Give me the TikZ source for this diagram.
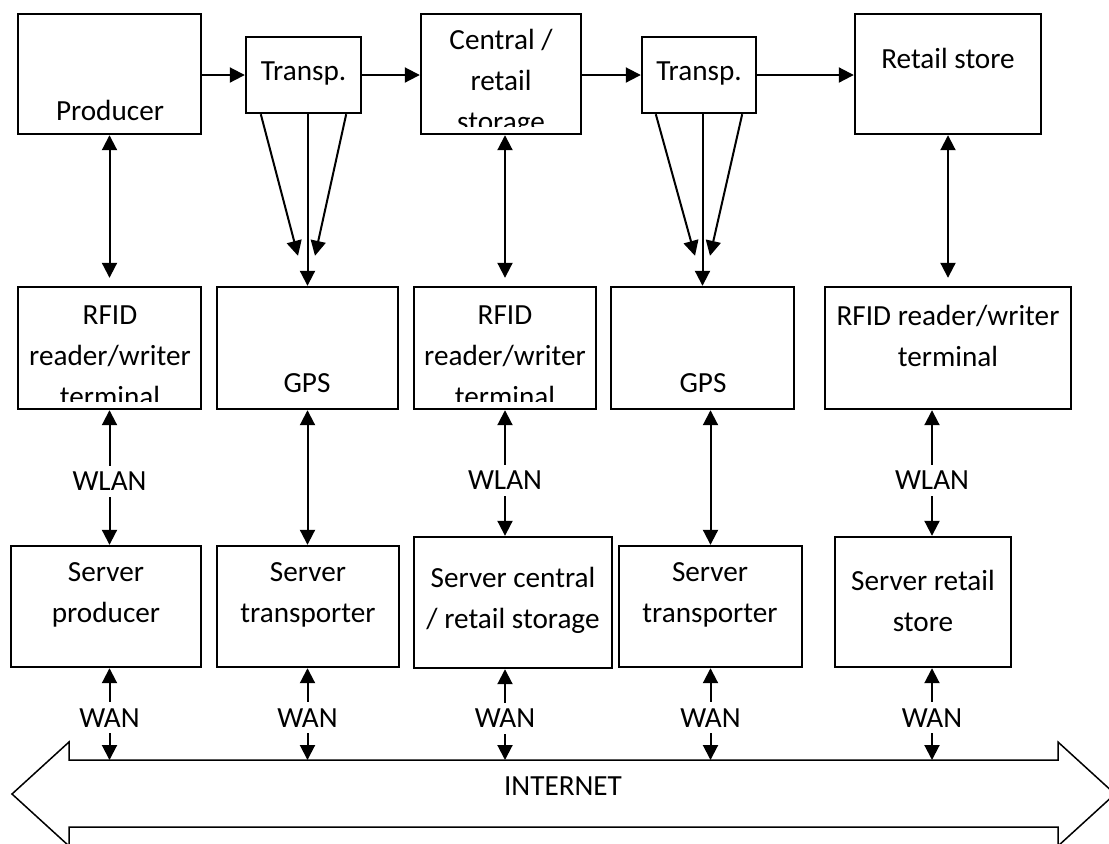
\documentclass[tikz,border=0pt]{standalone}
\usepackage{fontspec}
\setmainfont{Carlito}
\usetikzlibrary{arrows.meta, calc, fit}

\begin{document}
\begin{tikzpicture}[x=0.5pt, y=-0.5pt,
  box/.style={draw, line width=1.2pt, inner sep=0pt},
  txt/.style={align=center, font=\fontsize{14.6}{20.5}\selectfont, inner sep=0pt},
  lbl/.style={txt, fill=white, inner sep=3pt},
  arr/.style={line width=1pt, -{Triangle[length=7.5pt,width=7.5pt]}},
  dbl/.style={line width=1pt, {Triangle[length=7.5pt,width=7.5pt]}-{Triangle[length=7.5pt,width=7.5pt]}}]
\useasboundingbox (0,0) rectangle (1109,843);
% Top row: the supply chain
\node[box, fit={(18,14) (201,134)}] (prod) {};
\node[box, fit={(246,37) (361,113)}] (tr1) {};
\node[box, fit={(421,14) (581,134)}] (cen) {};
\node[box, fit={(642,37) (756,113)}] (tr2) {};
\node[box, fit={(855,14) (1041,134)}] (ret) {};
% Middle row: RFID terminals and GPS
\node[box, fit={(18,287) (201,409)}] (rfid1) {};
\node[box, fit={(217,287) (398,409)}] (gps1) {};
\node[box, fit={(414,287) (596,409)}] (rfid2) {};
\node[box, fit={(611,287) (794,409)}] (gps2) {};
\node[box, fit={(825,287) (1071,409)}] (rfid3) {};
% Bottom row: the servers
\node[box, fit={(11,546) (201,667)}] (sprod) {};
\node[box, fit={(217,546) (399,667)}] (strans1) {};
\node[box, fit={(414,537) (612,668)}] (scen) {};
\node[box, fit={(619,546) (802,667)}] (strans2) {};
\node[box, fit={(835,537) (1011,667)}] (sret) {};
\coordinate (sretn) at ($(sret.north)+(9,0)$);
\coordinate (srets) at ($(sret.south)+(9,0)$);
% Texts of the boxes
\node[txt] (prodtxt) at (110,110) {Producer};
\node[txt] (tr1txt) at (303.5,73) {Transp.};
\node[txt] (tr2txt) at (699,73) {Transp.};
\node[txt] (rettxt) at (948,58) {Retail store};
\node[txt] (gps1txt) at (307,383) {GPS};
\node[txt] (gps2txt) at (703,383) {GPS};
\node[txt] (rfid3txt) at (948,335.5) {RFID reader/writer\\terminal};
\node[txt] (sprodtxt) at (106,594.5) {Server\\producer};
\node[txt] (strans1txt) at (308,594.5) {Server\\transporter};
\node[txt] (scentxt) at (513,600) {Server central\\/ retail storage};
\node[txt] (strans2txt) at (710,594.5) {Server\\transporter};
\node[txt] (srettxt) at (923,600.5) {Server retail\\store};
% Texts that do not fit in their box are cut off
\begin{scope}
\clip (cen.north west) rectangle ($(cen.south east)+(0,-9)$);
\node[txt] (centxt) at (501,83) {Central /\\retail\\storage};
\end{scope}
\begin{scope}
\clip (rfid1.north west) rectangle ($(rfid1.south east)+(0,-9)$);
\node[txt] (rfid1txt) at (110,356) {RFID\\reader/writer\\terminal};
\end{scope}
\begin{scope}
\clip (rfid2.north west) rectangle ($(rfid2.south east)+(0,-9)$);
\node[txt] (rfid2txt) at (505,356) {RFID\\reader/writer\\terminal};
\end{scope}
% Flow of the goods
\draw[arr] (prod.east |- tr1) -- (tr1.west);
\draw[arr] (tr1.east) -- (cen.west |- tr1);
\draw[arr] (cen.east |- tr2) -- (tr2.west);
\draw[arr] (tr2.east) -- (ret.west |- tr2);
% Links to the terminals
\draw[dbl, shorten >=4pt] (prod.south) -- (rfid1.north);
\draw[dbl, shorten >=4pt] (cen.south -| rfid2.north) -- (rfid2.north);
\draw[dbl, shorten >=4pt] (ret.south) -- (rfid3.north);
% Transporters to GPS
\draw[arr] ($(tr1.south west)+(16,0)$) -- ($(gps1.north)+(-9.5,-30)$);
\draw[arr] (tr1.south -| gps1.north) -- (gps1.north);
\draw[arr] ($(tr1.south east)+(-16,0)$) -- ($(gps1.north)+(7.5,-30)$);
\draw[arr] ($(tr2.south west)+(15,0)$) -- ($(gps2.north)+(-7.5,-30)$);
\draw[arr] (tr2.south -| gps2.north) -- (gps2.north);
\draw[arr] ($(tr2.south east)+(-15,0)$) -- ($(gps2.north)+(7.5,-30)$);
% Terminals to servers
\draw[dbl] (rfid1.south) -- node[lbl, pos=0.53] (wlan1) {WLAN} (sprod.north -| rfid1.south);
\draw[dbl] (gps1.south) -- (strans1.north -| gps1.south);
\draw[dbl] (rfid2.south) -- node[lbl, pos=0.56] (wlan2) {WLAN} (scen.north -| rfid2.south);
\draw[dbl] (gps2.south -| strans2.north) -- (strans2.north);
\draw[dbl] (sretn |- rfid3.south) -- node[lbl, pos=0.56] (wlan3) {WLAN} (sretn);
% The internet
\draw[line width=0.75pt] (69,760) -- (1058,760) -- (1058,742) -- (1115,794) -- (1058,846)
  -- (1058,827) -- (69,827) -- (69,846) -- (12,794) -- (69,742) -- cycle;
\node[txt] (net) at (563,786) {INTERNET};
\coordinate (nettop) at (563,760);
% Servers to the internet
\draw[dbl] (sprod.south -| rfid1.south) -- node[lbl, pos=0.54] (wan1) {WAN} (rfid1.south |- nettop);
\draw[dbl] (strans1.south -| gps1.south) -- node[lbl, pos=0.54] (wan2) {WAN} (gps1.south |- nettop);
\draw[dbl] (scen.south -| rfid2.south) -- node[lbl, pos=0.54] (wan3) {WAN} (rfid2.south |- nettop);
\draw[dbl] (strans2.south) -- node[lbl, pos=0.54] (wan4) {WAN} (strans2.south |- nettop);
\draw[dbl] (srets) -- node[lbl, pos=0.54] (wan5) {WAN} (srets |- nettop);
\end{tikzpicture}
\end{document}
